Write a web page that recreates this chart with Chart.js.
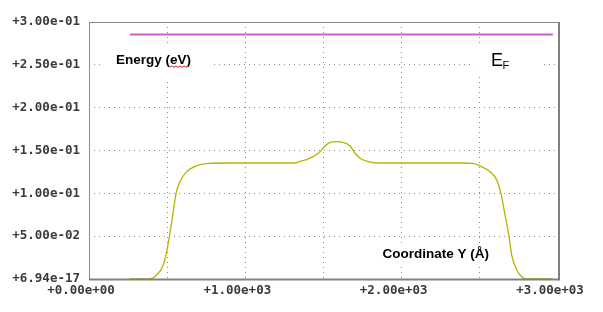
<!DOCTYPE html>
<html>
<head>
<meta charset="utf-8">
<script src="https://cdn.jsdelivr.net/npm/chart.js@4/dist/chart.umd.min.js"></script>
<style>
html,body{margin:0;padding:0;background:#fff;}
#wrap{width:603px;height:312px;position:relative;}
</style>
</head>
<body>
<div id="wrap"><canvas id="c" width="603" height="312"></canvas></div>
<script>
// Coordinate Y (Å) positions of the energy profile
const coordY = [262, 377, 433, 475, 497, 514, 539, 557, 582, 625, 689, 774, 900, 1100, 1318, 1345, 1414, 1478, 1510, 1542, 1585, 1625, 1670, 1702, 1734, 1787, 1841, 2000, 2200, 2393, 2458, 2501, 2565, 2608, 2635, 2661, 2687, 2704, 2736, 2778, 2800, 2967];
// Energy (eV) values of the profile
const energy = [0, 0, 0.0047, 0.0163, 0.0319, 0.0494, 0.0786, 0.1, 0.1136, 0.1253, 0.1323, 0.1350, 0.1354, 0.1354, 0.1354, 0.1370, 0.1410, 0.1486, 0.1553, 0.1594, 0.1603, 0.1594, 0.1553, 0.1468, 0.1410, 0.1370, 0.1354, 0.1354, 0.1354, 0.1354, 0.1350, 0.1320, 0.1253, 0.1156, 0.1, 0.0747, 0.0494, 0.028, 0.0105, 0.001, 0, 0];
// Fermi level line
const fermiX = [262, 2967];
const fermiY = [0.2855, 0.2855];
// Tick labels
const xTickValues = [0, 1000, 2000, 3000];
const xTickLabels = ['+0.00e+00', '+1.00e+03', '+2.00e+03', '+3.00e+03'];
const yTickLabels = ['+6.94e-17', '+5.00e-02', '+1.00e-01', '+1.50e-01', '+2.00e-01', '+2.50e-01', '+3.00e-01'];

const curveData = coordY.map((x, i) => ({x: x, y: energy[i]}));
const fermiData = fermiX.map((x, i) => ({x: x, y: fermiY[i]}));

const decor = {
  id: 'decor',
  afterDraw(chart) {
    const ctx = chart.ctx;
    const a = chart.chartArea;
    const xs = chart.scales.x, ys = chart.scales.y;
    ctx.save();
    // frame
    ctx.strokeStyle = '#8a8a8a';
    ctx.lineWidth = 1;
    ctx.beginPath();
    ctx.moveTo(a.left + 0.5, a.bottom); ctx.lineTo(a.left + 0.5, a.top + 0.5); ctx.lineTo(a.right, a.top + 0.5);
    ctx.stroke();
    ctx.lineWidth = 2;
    ctx.strokeStyle = '#808080';
    ctx.beginPath();
    ctx.moveTo(a.left, a.bottom + 0.5); ctx.lineTo(a.right + 1, a.bottom + 0.5); ctx.lineTo(a.right + 1, a.top);
    ctx.stroke();

    // text boxes
    function box(x, y, w, h) { ctx.fillStyle = '#fff'; ctx.fillRect(x, y, w, h); }
    const ex = xs.getPixelForValue(173), ey = ys.getPixelForValue(0.2505);
    box(ex - 14, ey - 19, 110, 33);
    ctx.fillStyle = '#000';
    ctx.font = 'bold 13.5px "Liberation Sans", Arial, sans-serif';
    ctx.textBaseline = 'alphabetic';
    ctx.textAlign = 'left';
    ctx.fillText('Energy (eV)', ex, ey);
    // spellcheck squiggle under "eV"
    const sw = ctx.measureText('Energy (').width;
    const ew = ctx.measureText('eV').width;
    ctx.strokeStyle = '#e02020';
    ctx.lineWidth = 1;
    ctx.beginPath();
    let sx = ex + sw, up = false;
    ctx.moveTo(sx, ey + 3);
    while (sx < ex + sw + ew) { sx += 2; up = !up; ctx.lineTo(sx, ey + (up ? 1.5 : 3)); }
    ctx.stroke();

    // E_F
    const fx = xs.getPixelForValue(2572), fy = ys.getPixelForValue(0.2486);
    box(fx - 17, fy - 22, 66, 33);
    ctx.fillStyle = '#000';
    ctx.font = '18px "Liberation Sans", Arial, sans-serif';
    ctx.fillText('E', fx, fy);
    const w = ctx.measureText('E').width;
    ctx.font = '11px "Liberation Sans", Arial, sans-serif';
    ctx.fillText('F', fx + w - 0.5, fy + 3);

    // Coordinate label
    const cx = xs.getPixelForValue(1878), cy = ys.getPixelForValue(0.0242);
    ctx.font = 'bold 13.5px "Liberation Sans", Arial, sans-serif';
    const cw = ctx.measureText('Coordinate Y (Å)').width;
    box(cx - 4, cy - 15, cw + 8, 21);
    ctx.fillStyle = '#000';
    ctx.fillText('Coordinate Y (Å)', cx, cy);
    ctx.restore();
  }
};

new Chart(document.getElementById('c'), {
  type: 'scatter',
  data: {
    datasets: [
      {data: fermiData, showLine: true, borderColor: '#cc5fd0', borderWidth: 2, pointRadius: 0, fill: false},
      {data: curveData, showLine: true, borderColor: '#b4b400', borderWidth: 1.3, pointRadius: 0, fill: false, cubicInterpolationMode: 'monotone'}
    ]
  },
  options: {
    responsive: false,
    animation: false,
    events: [],
    layout: {padding: {left: 0, right: 45, top: 22, bottom: 0}},
    plugins: {legend: {display: false}, tooltip: {enabled: false}},
    scales: {
      x: {
        type: 'linear', min: 0, max: 3000,
        afterFit(s) { s.height = 33; },
        grid: {color: '#8c8c8c', lineWidth: 1, drawTicks: false},
        border: {display: false, dash: [1, 4]},
        ticks: {
          stepSize: 500, autoSkip: false, maxRotation: 0, padding: 4, labelOffset: -8,
          color: '#3a3a3a',
          font: {family: '"DejaVu Sans Mono", monospace', size: 12.5, weight: 'bold'},
          callback(v) { const i = xTickValues.indexOf(v); return i >= 0 ? xTickLabels[i] : ''; }
        }
      },
      y: {
        min: 0, max: 0.3,
        afterFit(s) { s.width = 89; },
        grid: {color: '#8c8c8c', lineWidth: 1, drawTicks: false},
        border: {display: false, dash: [1, 4]},
        ticks: {
          stepSize: 0.05, padding: 9,
          color: '#3a3a3a',
          font: {family: '"DejaVu Sans Mono", monospace', size: 12.5, weight: 'bold'},
          callback(v, i) { return yTickLabels[i]; }
        }
      }
    }
  },
  plugins: [decor]
});
</script>
</body>
</html>
